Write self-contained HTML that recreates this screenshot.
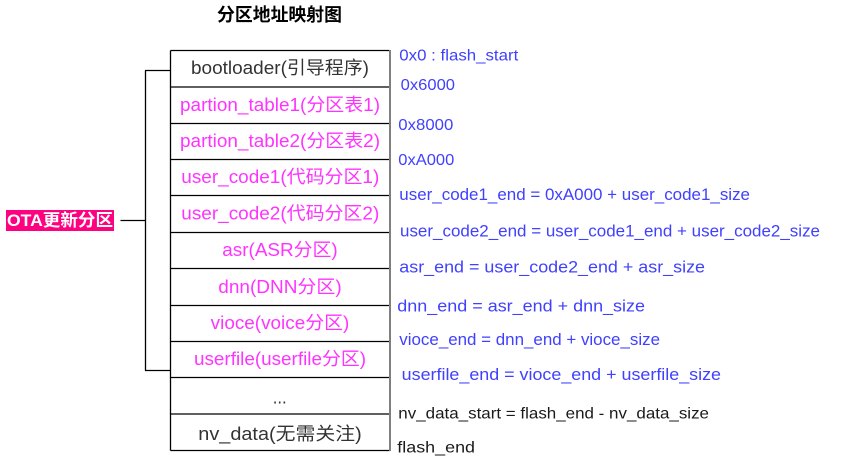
<!DOCTYPE html>
<html>
<head>
<meta charset="utf-8">
<style>
html,body{margin:0;padding:0;background:#fff;}
svg{display:block;}
text{font-family:"Liberation Sans","Noto Sans CJK SC",sans-serif;}
</style>
</head>
<body>
<svg width="841" height="462" viewBox="0 0 841 462" xmlns="http://www.w3.org/2000/svg">
  <!-- Title -->
  <text x="217" y="21" font-size="18" font-weight="bold" fill="#000" textLength="125" lengthAdjust="spacingAndGlyphs">分区地址映射图</text>

  <!-- Bracket -->
  <g stroke="#000" stroke-width="1.3" fill="none">
    <line x1="145.5" y1="70.5" x2="145.5" y2="370.5"/>
    <line x1="145" y1="70.5" x2="171" y2="70.5"/>
    <line x1="145" y1="370.5" x2="171" y2="370.5"/>
    <line x1="120.5" y1="220.5" x2="145.5" y2="220.5"/>
  </g>

  <!-- OTA label -->
  <rect x="6" y="210" width="108" height="21" fill="#FF0080"/>
  <text x="7" y="226" font-size="17" font-weight="bold" fill="#fff" textLength="106" lengthAdjust="spacingAndGlyphs">OTA更新分区</text>

  <!-- Box -->
  <g stroke="#000" stroke-width="1.3" fill="none">
    <line x1="170.5" y1="50.5" x2="389.5" y2="50.5"/>
    <line x1="170.5" y1="50.5" x2="170.5" y2="450.5"/>
    <line x1="170.5" y1="450.5" x2="389.5" y2="450.5"/>
    <line x1="170.5" y1="87" x2="390" y2="87"/>
    <line x1="170.5" y1="123.5" x2="390" y2="123.5"/>
    <line x1="170.5" y1="159.5" x2="390" y2="159.5"/>
    <line x1="170.5" y1="195.5" x2="390" y2="195.5"/>
    <line x1="170.5" y1="232.5" x2="390" y2="232.5"/>
    <line x1="170.5" y1="268.5" x2="390" y2="268.5"/>
    <line x1="170.5" y1="305.5" x2="390" y2="305.5"/>
    <line x1="170.5" y1="341.5" x2="390" y2="341.5"/>
    <line x1="170.5" y1="377.5" x2="390" y2="377.5"/>
    <line x1="170.5" y1="414" x2="390" y2="414"/>
  </g>
  <line x1="390" y1="50" x2="390" y2="451" stroke="#808080" stroke-width="2"/>

  <!-- Box texts -->
  <g font-size="18">
    <text x="191" y="74" fill="#333" textLength="178" lengthAdjust="spacingAndGlyphs">bootloader(引导程序)</text>
    <text x="180" y="111" fill="#FF33FF" textLength="200" lengthAdjust="spacingAndGlyphs">partion_table1(分区表1)</text>
    <text x="180" y="147" fill="#FF33FF" textLength="200" lengthAdjust="spacingAndGlyphs">partion_table2(分区表2)</text>
    <text x="181.3" y="183" fill="#FF33FF" textLength="198" lengthAdjust="spacingAndGlyphs">user_code1(代码分区1)</text>
    <text x="181.3" y="219.5" fill="#FF33FF" textLength="198" lengthAdjust="spacingAndGlyphs">user_code2(代码分区2)</text>
    <text x="222.3" y="256" fill="#FF33FF" textLength="115.4" lengthAdjust="spacingAndGlyphs">asr(ASR分区)</text>
    <text x="218.3" y="293" fill="#FF33FF" textLength="123.4" lengthAdjust="spacingAndGlyphs">dnn(DNN分区)</text>
    <text x="210.7" y="329" fill="#FF33FF" textLength="138.6" lengthAdjust="spacingAndGlyphs">vioce(voice分区)</text>
    <text x="194" y="365" fill="#FF33FF" textLength="172" lengthAdjust="spacingAndGlyphs">userfile(userfile分区)</text>
    <text x="272.7" y="403.5" fill="#333" textLength="14" lengthAdjust="spacingAndGlyphs">...</text>
    <text x="198.3" y="440" fill="#333" textLength="163.4" lengthAdjust="spacingAndGlyphs">nv_data(无需关注)</text>
  </g>

  <!-- Right labels -->
  <g font-size="16" fill="#4040FF">
    <text x="399.3" y="60.7" textLength="119" lengthAdjust="spacingAndGlyphs">0x0 : flash_start</text>
    <text x="400.7" y="90" textLength="54.3" lengthAdjust="spacingAndGlyphs">0x6000</text>
    <text x="398.3" y="130" textLength="55" lengthAdjust="spacingAndGlyphs">0x8000</text>
    <text x="398.3" y="165" textLength="56" lengthAdjust="spacingAndGlyphs">0xA000</text>
  </g>
  <g font-size="17" fill="#4040FF">
    <text x="399.3" y="200" textLength="350.7" lengthAdjust="spacingAndGlyphs">user_code1_end = 0xA000 + user_code1_size</text>
    <text x="400" y="236.7" textLength="420" lengthAdjust="spacingAndGlyphs">user_code2_end = user_code1_end + user_code2_size</text>
    <text x="399.3" y="272.7" textLength="305.7" lengthAdjust="spacingAndGlyphs">asr_end = user_code2_end + asr_size</text>
    <text x="397.3" y="311.7" textLength="247.7" lengthAdjust="spacingAndGlyphs">dnn_end = asr_end + dnn_size</text>
    <text x="399.3" y="345" textLength="260.7" lengthAdjust="spacingAndGlyphs">vioce_end = dnn_end + vioce_size</text>
    <text x="401.7" y="380" textLength="319.3" lengthAdjust="spacingAndGlyphs">userfile_end = vioce_end + userfile_size</text>
  </g>
  <g font-size="16" fill="#1a1a1a">
    <text x="398.3" y="418.3" textLength="310.7" lengthAdjust="spacingAndGlyphs">nv_data_start = flash_end - nv_data_size</text>
    <text x="397.3" y="452.7" textLength="77.7" lengthAdjust="spacingAndGlyphs">flash_end</text>
  </g>
</svg>
</body>
</html>
